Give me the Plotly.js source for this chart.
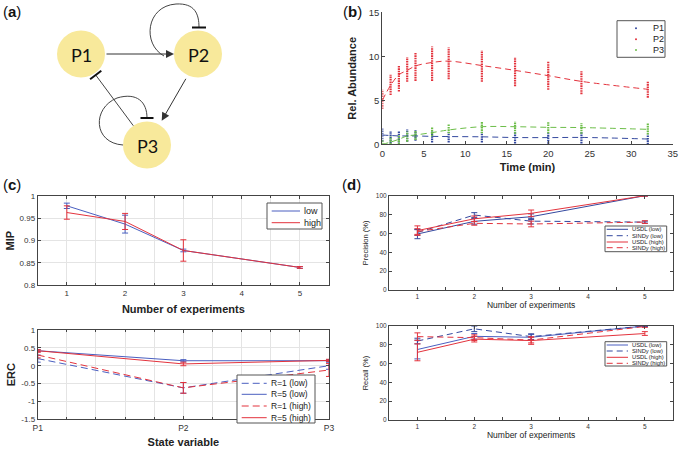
<!DOCTYPE html>
<html>
<head>
<meta charset="utf-8">
<script src="https://cdn.plot.ly/plotly-3.0.1.min.js"></script>
<style>
html, body { margin: 0; padding: 0; background: #fff; }
#fig { width: 680px; height: 449px; }
</style>
</head>
<body>
<div id="fig"></div>
<script>
// ---- (b) time course, relative abundance
let timePts = [0, 1, 2, 3, 4, 6, 8, 12, 16, 20, 24, 32];
let p1Model = [1.05, 1.0, 0.95, 0.95, 0.95, 0.9, 0.88, 0.85, 0.77, 0.76, 0.78, 0.6];
let p2Model = [5.0, 6.7, 7.9, 8.4, 8.9, 9.3, 9.45, 8.95, 8.4, 7.8, 7.15, 6.25];
let p3Model = [0.0, 0.25, 0.57, 0.95, 1.06, 1.33, 1.63, 2.0, 2.0, 1.93, 1.9, 1.7];
let p1Low = [0.3, 0.1, 0.2, 0.3, 0.4, 0.2, 0.2, 0.2, 0.1, 0.05, 0.1, 0.0];
let p1High = [1.8, 1.5, 1.45, 1.7, 1.6, 1.45, 1.36, 1.36, 1.45, 1.25, 1.36, 1.1];
let p2Low = [4.0, 5.6, 6.0, 7.1, 7.2, 7.2, 7.4, 7.1, 6.6, 6.2, 5.7, 5.3];
let p2High = [6.2, 7.9, 9.0, 9.9, 10.4, 11.1, 11.0, 10.7, 9.9, 9.4, 8.3, 7.1];
let p3Low = [0.0, 0.0, 0.0, 0.3, 0.5, 0.9, 1.25, 1.25, 1.2, 1.25, 1.2, 1.1];
let p3High = [0.5, 0.9, 1.05, 1.45, 1.6, 2.0, 2.3, 2.6, 2.6, 2.5, 2.4, 2.4];

// ---- (c) MIP vs number of experiments
let nExp = [1, 2, 3, 5];
let mipLow = [0.978, 0.937, 0.878, 0.84];
let mipLowErr = [0.006, 0.02, 0.003, 0.002];
let mipHigh = [0.963, 0.943, 0.878, 0.84];
let mipHighErr = [0.015, 0.018, 0.024, 0.002];

// ---- (c) ERC per state variable
let stateVars = ['P1', 'P2', 'P3'];
let ercR1Low = [0.2, -0.62, 0.0];
let ercR1LowErr = [0.1, 0.15, 0.1];
let ercR5Low = [0.42, 0.14, 0.14];
let ercR5LowErr = [0.03, 0.03, 0.03];
let ercR1High = [0.3, -0.62, -0.12];
let ercR1HighErr = [0.08, 0.15, 0.18];
let ercR5High = [0.42, 0.05, 0.15];
let ercR5HighErr = [0.03, 0.05, 0.03];

// ---- (d) precision / recall
let precUsdlLow = [59.4, 72.8, 77.7, 100];
let precUsdlLowErr = [5, 3, 3, 0.5];
let precSindyLow = [61, 79.5, 73, 72];
let precSindyLowErr = [3, 2.5, 3, 1];
let precUsdlHigh = [63, 75.5, 81.3, 100];
let precUsdlHighErr = [5, 3, 3.5, 0.5];
let precSindyHigh = [62, 70.7, 70, 72];
let precSindyHighErr = [3, 2, 3, 1.5];

let recUsdlLow = [75, 89, 88, 100];
let recUsdlLowErr = [10, 3, 3, 0.5];
let recSindyLow = [84, 97, 88.7, 100];
let recSindyLowErr = [3, 3, 3, 0.5];
let recUsdlHigh = [72, 86, 84.5, 92];
let recUsdlHighErr = [9, 3, 4, 2];
let recSindyHigh = [88.7, 87.6, 85, 99.5];
let recSindyHighErr = [4, 3, 3, 1];

const W = 680, H = 449;
const fx = p => p / W;
const fy = p => 1 - p / H;

const cBlue = '#34499f';
const cRed = '#e3333d';
const cGreen = '#6cbd48';
const cBlueC = '#4a5fc0';
const FONT = 'Liberation Sans, Arial, sans-serif';
const dashC = '7px,4px';
const dashD = '6px,4px';

let traces = [];

// vertical strips of replicate measurements
function strip(t, lo, hi) {
    let xs = [], ys = [];
    for (let i = 0; i < t.length; i++) {
        xs.push(t[i], t[i], null);
        ys.push(lo[i], hi[i], null);
    }
    return {x: xs, y: ys};
}

let bSeries = [
    [p1Low, p1High, p1Model, cBlue],
    [p2Low, p2High, p2Model, cRed],
    [p3Low, p3High, p3Model, cGreen]
];
bSeries.forEach(function(s) {
    let st = strip(timePts, s[0], s[1]);
    traces.push({x: st.x, y: st.y, mode: 'lines', xaxis: 'x', yaxis: 'y',
        line: {color: s[3], width: 2.2, dash: '1.6px,0.8px'}, hoverinfo: 'skip'});
});
bSeries.forEach(function(s) {
    traces.push({x: timePts, y: s[2], mode: 'lines', xaxis: 'x', yaxis: 'y',
        line: {color: s[3], width: 1, dash: '6px,4px', shape: 'spline'}, hoverinfo: 'skip'});
});

function errLine(x, y, err, color, dash, ax, w) {
    return {x: x, y: y, mode: 'lines', xaxis: 'x' + ax, yaxis: 'y' + ax,
        line: {color: color, width: w || 1, dash: dash},
        error_y: {type: 'data', array: err, visible: true, color: color, thickness: 1, width: 3},
        hoverinfo: 'skip'};
}

traces.push(errLine(nExp, mipLow, mipLowErr, cBlueC, 'solid', 2));
traces.push(errLine(nExp, mipHigh, mipHighErr, cRed, 'solid', 2));

let sv = [1, 2, 3];
traces.push(errLine(sv, ercR1Low, ercR1LowErr, cBlueC, dashC, 3));
traces.push(errLine(sv, ercR5Low, ercR5LowErr, cBlueC, 'solid', 3));
traces.push(errLine(sv, ercR1High, ercR1HighErr, cRed, dashC, 3));
traces.push(errLine(sv, ercR5High, ercR5HighErr, cRed, 'solid', 3));

traces.push(errLine(nExp, precUsdlLow, precUsdlLowErr, cBlue, 'solid', 4));
traces.push(errLine(nExp, precSindyLow, precSindyLowErr, cBlue, dashD, 4));
traces.push(errLine(nExp, precUsdlHigh, precUsdlHighErr, cRed, 'solid', 4));
traces.push(errLine(nExp, precSindyHigh, precSindyHighErr, cRed, dashD, 4));

traces.push(errLine(nExp, recUsdlLow, recUsdlLowErr, cBlueC, 'solid', 5));
traces.push(errLine(nExp, recSindyLow, recSindyLowErr, cBlue, dashD, 5));
traces.push(errLine(nExp, recUsdlHigh, recUsdlHighErr, cRed, 'solid', 5));
traces.push(errLine(nExp, recSindyHigh, recSindyHighErr, cRed, dashD, 5));

let shapes = [];
let annotations = [];

// hand-built legends, the MATLAB ones are much tighter than plotly's
function legendBox(box, rows, lineX, textX, size) {
    shapes.push({type: 'rect', xref: 'paper', yref: 'paper', layer: 'above',
        x0: fx(box[0]), x1: fx(box[2]), y0: fy(box[3]), y1: fy(box[1]),
        line: {color: '#555', width: 1}, fillcolor: '#fff'});
    rows.forEach(function(r) {
        if (r.dot) {
            shapes.push({type: 'circle', xref: 'paper', yref: 'paper', layer: 'above',
                x0: fx(lineX[0] - 1), x1: fx(lineX[0] + 1), y0: fy(r.y + 1), y1: fy(r.y - 1),
                fillcolor: r.color, line: {width: 0}});
        } else {
            shapes.push({type: 'line', xref: 'paper', yref: 'paper', layer: 'above',
                x0: fx(lineX[0]), x1: fx(lineX[1]), y0: fy(r.y), y1: fy(r.y),
                line: {color: r.color, width: 1, dash: r.dash || 'solid'}});
        }
        annotations.push({xref: 'paper', yref: 'paper', x: fx(textX), y: fy(r.y),
            xanchor: 'left', yanchor: 'middle', showarrow: false, text: r.label,
            font: {family: FONT, size: size, color: '#222'}});
    });
}

legendBox([617, 20.7, 665, 57.3], [
    {label: 'P1', color: cBlue, y: 28.3, dot: true},
    {label: 'P2', color: cRed, y: 39.3, dot: true},
    {label: 'P3', color: cGreen, y: 50, dot: true}
], [636], 651, 9);

legendBox([267, 203, 322, 229], [
    {label: 'low', color: cBlueC, y: 211},
    {label: 'high', color: cRed, y: 222.7}
], [271.7, 300], 302, 9);

legendBox([237, 375, 315, 423], [
    {label: 'R=1 (low)', color: cBlueC, y: 383.3, dash: dashC},
    {label: 'R=5 (low)', color: cBlueC, y: 394.3},
    {label: 'R=1 (high)', color: cRed, y: 406, dash: dashC},
    {label: 'R=5 (high)', color: cRed, y: 417.7}
], [241.7, 266.7], 269, 8.5);

legendBox([605, 226, 666.7, 251.7], [
    {label: 'USDL (low)', color: cBlue, y: 229.3},
    {label: 'SINDy (low)', color: cBlue, y: 235.7, dash: dashD},
    {label: 'USDL (high)', color: cRed, y: 242},
    {label: 'SINDy (high)', color: cRed, y: 247.7, dash: dashD}
], [606.7, 628], 629.5, 5.8);

legendBox([605, 341.7, 666.7, 366], [
    {label: 'USDL (low)', color: cBlueC, y: 345},
    {label: 'SINDy (low)', color: cBlue, y: 351, dash: dashD},
    {label: 'USDL (high)', color: cRed, y: 357.3},
    {label: 'SINDy (high)', color: cRed, y: 363.3, dash: dashD}
], [606.7, 628], 629.5, 5.8);

// ---- (a) network diagram, drawn on a hidden axis in pixel units
let nodes = [['P1', 81, 54], ['P2', 198, 54], ['P3', 147, 145]];
nodes.forEach(function(n) {
    shapes.push({type: 'circle', xref: 'x6', yref: 'y6', x0: n[1] - 24, x1: n[1] + 24,
        y0: n[2] - 23.5, y1: n[2] + 23.5, fillcolor: '#f8e99b', line: {width: 0}});
    annotations.push({xref: 'x6', yref: 'y6', x: n[1], y: n[2] + 1, text: n[0], showarrow: false,
        font: {family: 'Lato, sans-serif', size: 18, color: '#111'}});
});
function arrow(x0, y0, x1, y1) {
    annotations.push({xref: 'x6', yref: 'y6', axref: 'x6', ayref: 'y6', x: x1, y: y1, ax: x0, ay: y0,
        text: '', showarrow: true, arrowhead: 2, arrowsize: 1.6, arrowwidth: 1,
        arrowcolor: '#333', standoff: 0, startstandoff: 0});
}
arrow(105, 54, 174, 54);
arrow(186.7, 77.3, 161.7, 120.7);
// self loops and inhibition line
const edge = {color: '#444', width: 1};
shapes.push({type: 'path', xref: 'x6', yref: 'y6', path: 'M 164,56 C 142,44 146,6 176,4 C 195,3 199,14 199,27.5', line: edge});
shapes.push({type: 'path', xref: 'x6', yref: 'y6', path: 'M 123,145 C 93,143 92,108 117,98 C 137,92 147,102 147,118', line: edge});
shapes.push({type: 'line', xref: 'x6', yref: 'y6', x0: 133.3, y0: 125.7, x1: 95.7, y1: 75, line: edge});
const bar = {color: '#111', width: 2};
shapes.push({type: 'line', xref: 'x6', yref: 'y6', x0: 192, x1: 206, y0: 27.5, y1: 27.5, line: bar});
shapes.push({type: 'line', xref: 'x6', yref: 'y6', x0: 140.5, x1: 153.5, y0: 118, y1: 118, line: bar});
shapes.push({type: 'line', xref: 'x6', yref: 'y6', x0: 90.1, y0: 79.2, x1: 101.3, y1: 70.8, line: bar});

// panel letters
[['a', 1, 11], ['b', 341, 11], ['c', 1, 184], ['d', 340, 184]].forEach(function(p) {
    annotations.push({xref: 'paper', yref: 'paper', x: fx(p[1]), y: fy(p[2]), xanchor: 'left',
        yanchor: 'middle', showarrow: false, text: '(<b>' + p[0] + '</b>)',
        font: {family: FONT, size: 15, color: '#111'}});
});

const lineCol = '#444';
function boxAxis(extra) {
    return Object.assign({showline: true, linecolor: lineCol, linewidth: 1, mirror: 'ticks',
        ticks: 'inside', ticklen: 3, tickcolor: lineCol, zeroline: false, showgrid: false,
        fixedrange: true}, extra);
}
const gridCol = '#e4e4e4';
const tickC = {family: FONT, size: 8, color: '#333'};
const tickD = {family: FONT, size: 6.5, color: '#333'};
const boldTitle = s => ({text: s, font: {family: FONT, size: 11, color: '#222', weight: 'bold'}});

let layout = {
    width: W, height: H,
    margin: {l: 0, r: 0, t: 0, b: 0},
    paper_bgcolor: '#fff', plot_bgcolor: 'rgba(0,0,0,0)',
    showlegend: false,
    shapes: shapes,
    annotations: annotations,
    xaxis: boxAxis({domain: [fx(382.3), fx(672.7)], range: [0, 35], dtick: 5, mirror: false,
        anchor: 'y', tickfont: {family: FONT, size: 9.5, color: '#333'},
        title: Object.assign(boldTitle('Time (min)'), {standoff: 5})}),
    yaxis: boxAxis({domain: [fy(144.3), fy(12.3)], range: [0, 15], dtick: 5, mirror: false,
        anchor: 'x', tickfont: {family: FONT, size: 9.5, color: '#333'},
        title: Object.assign(boldTitle('Rel. Abundance'), {standoff: 9})}),
    xaxis2: boxAxis({domain: [fx(37.7), fx(329)], range: [0.5, 5.5], tick0: 0, dtick: 1, anchor: 'y2',
        showgrid: true, gridcolor: gridCol,
        minor: {tick0: 0, dtick: 0.5, showgrid: true, gridcolor: gridCol, ticks: 'inside', ticklen: 2, tickcolor: lineCol},
        tickfont: tickC, title: Object.assign(boldTitle('Number of experiments'), {standoff: 8})}),
    yaxis2: boxAxis({domain: [fy(285.3), fy(196)], range: [0.8, 1], dtick: 0.05, anchor: 'x2',
        showgrid: true, gridcolor: gridCol, tickfont: tickC,
        title: Object.assign(boldTitle('MIP'), {standoff: 2})}),
    xaxis3: boxAxis({domain: [fx(37.7), fx(329)], range: [1, 3], tickvals: sv, ticktext: stateVars,
        anchor: 'y3', showgrid: true, gridcolor: gridCol,
        minor: {tick0: 1, dtick: 0.2, showgrid: true, gridcolor: gridCol, ticks: 'inside', ticklen: 2, tickcolor: lineCol},
        tickfont: {family: FONT, size: 8.5, color: '#333'},
        title: Object.assign(boldTitle('State variable'), {standoff: 6})}),
    yaxis3: boxAxis({domain: [fy(419.3), fy(330)], range: [-1.5, 1],
        tickvals: [-1.5, -1, -0.5, 0, 0.5, 1], ticktext: ['-1.5', '-1', '-0.5', '0', '0.5', '1'],
        anchor: 'x3', showgrid: true, gridcolor: gridCol, tickfont: tickC,
        title: Object.assign(boldTitle('ERC'), {standoff: 3})}),
    xaxis4: boxAxis({domain: [fx(389), fx(673.3)], range: [0.5, 5.5], tick0: 0, dtick: 1, anchor: 'y4',
        minor: {tick0: 0, dtick: 0.5, ticks: 'inside', ticklen: 3, tickcolor: lineCol},
        tickfont: tickD,
        title: {text: 'Number of experiments', font: {family: FONT, size: 8.5, color: '#222'}, standoff: 2}}),
    yaxis4: boxAxis({domain: [fy(290), fy(195.7)], range: [0, 100], dtick: 20, anchor: 'x4',
        tickfont: tickD,
        title: {text: 'Precision (%)', font: {family: FONT, size: 7.5, color: '#222'}, standoff: 6}}),
    xaxis5: boxAxis({domain: [fx(389), fx(673.3)], range: [0.5, 5.5], tick0: 0, dtick: 1, anchor: 'y5',
        minor: {tick0: 0, dtick: 0.5, ticks: 'inside', ticklen: 3, tickcolor: lineCol},
        tickfont: tickD,
        title: {text: 'Number of experiments', font: {family: FONT, size: 8.5, color: '#222'}, standoff: 1}}),
    yaxis5: boxAxis({domain: [fy(420), fy(326)], range: [0, 100], dtick: 20, anchor: 'x5',
        tickfont: tickD,
        title: {text: 'Recall (%)', font: {family: FONT, size: 7.5, color: '#222'}, standoff: 6}}),
    xaxis6: {domain: [0, 0.5], range: [0, 340], visible: false, fixedrange: true, anchor: 'y6'},
    yaxis6: {domain: [fy(200), 1], range: [200, 0], visible: false, fixedrange: true, anchor: 'x6'}
};

Plotly.newPlot('fig', traces, layout, {staticPlot: true, displayModeBar: false});
</script>
</body>
</html>
